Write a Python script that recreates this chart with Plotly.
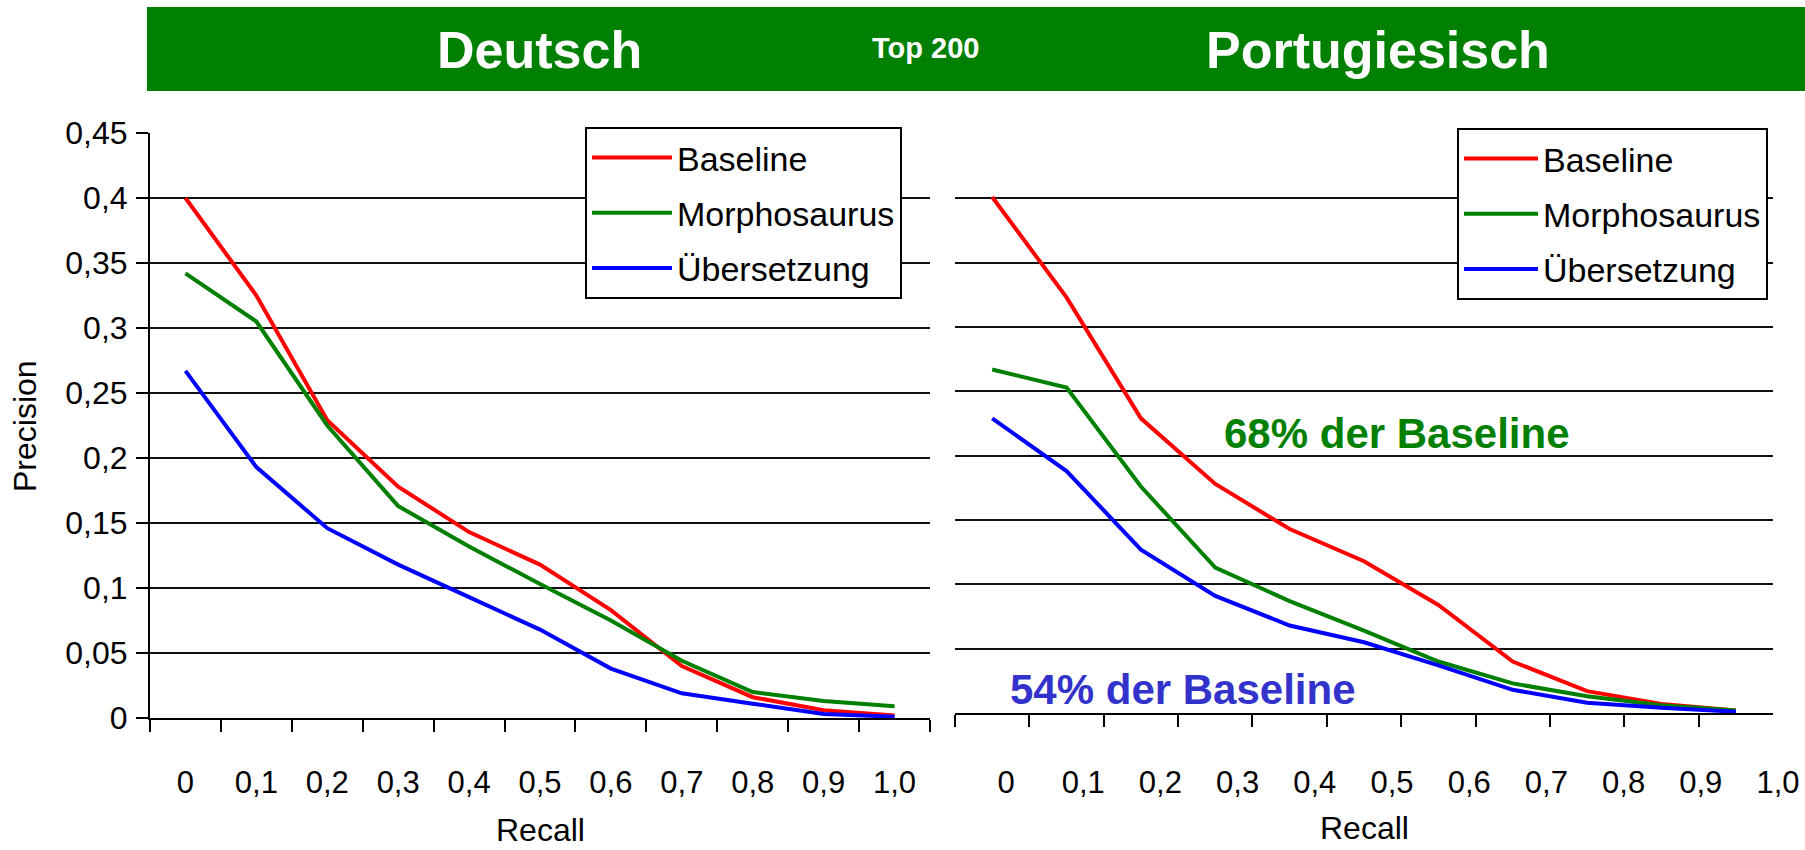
import plotly.graph_objects as go

# Recall levels (categories on the x axis)
recall = ["0", "0,1", "0,2", "0,3", "0,4", "0,5", "0,6", "0,7", "0,8", "0,9", "1,0"]

# Deutsch: precision per recall level
baseline_de = [0.400, 0.325, 0.229, 0.178, 0.143, 0.118, 0.083, 0.040, 0.016, 0.006, 0.002]
morpho_de = [0.342, 0.305, 0.225, 0.163, 0.132, 0.103, 0.075, 0.044, 0.020, 0.013, 0.009]
uebers_de = [0.267, 0.193, 0.146, 0.118, 0.093, 0.068, 0.038, 0.019, 0.011, 0.003, 0.001]

# Portugiesisch: precision per recall level
baseline_pt = [0.401, 0.323, 0.229, 0.178, 0.143, 0.118, 0.084, 0.040, 0.017, 0.007, 0.002]
morpho_pt = [0.267, 0.253, 0.176, 0.113, 0.087, 0.064, 0.040, 0.023, 0.013, 0.006, 0.002]
uebers_pt = [0.229, 0.188, 0.127, 0.091, 0.068, 0.055, 0.037, 0.018, 0.008, 0.004, 0.001]

series_names = ["Baseline", "Morphosaurus", "Übersetzung"]
colors = ["#FF0000", "#008000", "#0000FF"]

W, H = 1805, 850
FONT = "Arial, Liberation Sans, sans-serif"


def px_x(p):
    return p / W


def px_y(p):
    return 1 - p / H


fig = go.Figure()

for name, col, ys in zip(series_names, colors, [baseline_de, morpho_de, uebers_de]):
    fig.add_trace(go.Scatter(
        x=recall, y=ys, name=name, mode="lines",
        line=dict(color=col, width=4),
        xaxis="x", yaxis="y", legend="legend", legendgroup="de_" + name,
    ))

for name, col, ys in zip(series_names, colors, [baseline_pt, morpho_pt, uebers_pt]):
    fig.add_trace(go.Scatter(
        x=recall, y=ys, name=name, mode="lines",
        line=dict(color=col, width=4),
        xaxis="x2", yaxis="y2", legend="legend2", legendgroup="pt_" + name,
    ))

# empty trace so the label-only axis pair of the right panel is drawn
fig.add_trace(go.Scatter(x=[], y=[], xaxis="x3", yaxis="y3", showlegend=False,
                         hoverinfo="skip"))

grid = dict(showgrid=True, gridcolor="#111111", gridwidth=2, zeroline=False)

fig.update_layout(
    template="none",
    width=W, height=H,
    margin=dict(l=0, r=0, t=0, b=0, pad=0, autoexpand=False),
    paper_bgcolor="white", plot_bgcolor="rgba(0,0,0,0)",
    separators=", ",
    font=dict(family=FONT, color="black", size=32),
    xaxis=dict(
        domain=[px_x(150), px_x(930)], anchor="y", automargin=False,
        type="category", categoryarray=recall, categoryorder="array",
        tickson="boundaries", ticks="outside", ticklen=12, tickwidth=1.5, tickcolor="black",
        showline=True, linecolor="black", linewidth=2,
        showgrid=False, zeroline=False,
        tickfont=dict(size=31), ticklabelstandoff=36,
        range=[-0.5, 10.5],
    ),
    yaxis=dict(
        domain=[px_y(718), px_y(133)], anchor="x", automargin=False,
        range=[0, 0.45], dtick=0.05, tick0=0,
        ticks="outside", ticklen=12, tickwidth=2, tickcolor="black",
        showline=True, linecolor="black", linewidth=2,
        tickfont=dict(size=32), ticklabelstandoff=2,
        **grid,
    ),
    xaxis2=dict(
        domain=[px_x(955), px_x(1773)], anchor="y2", automargin=False,
        type="category", categoryarray=recall, categoryorder="array",
        tickson="boundaries", ticks="outside", ticklen=12, tickwidth=1.5, tickcolor="black",
        showline=True, linecolor="black", linewidth=2,
        showgrid=False, zeroline=False, showticklabels=False,
        range=[-0.5, 10.5],
    ),
    yaxis2=dict(
        domain=[px_y(713), px_y(134)], anchor="x2", automargin=False,
        range=[0, 0.45], dtick=0.05, tick0=0,
        showticklabels=False, ticks="", showline=False,
        **grid,
    ),
    # label-only axis for the right panel's recall levels
    xaxis3=dict(
        domain=[px_x(967.4), 1.0], anchor="y3", automargin=False,
        type="linear", range=[-0.5, -0.5 + (W - 967.4) / 77.2],
        tickmode="array", tickvals=list(range(len(recall))), ticktext=recall,
        ticks="outside", ticklen=12, tickcolor="rgba(0,0,0,0)",
        showline=False, showgrid=False, zeroline=False,
        tickfont=dict(size=31), ticklabelstandoff=30,
    ),
    yaxis3=dict(
        domain=[px_y(713), px_y(134)], anchor="x3", automargin=False,
        range=[0, 1], visible=False, showgrid=False, zeroline=False,
    ),
    legend=dict(
        x=px_x(585), y=px_y(127), xanchor="left", yanchor="top",
        bordercolor="black", borderwidth=2, bgcolor="white",
        font=dict(size=34, family=FONT), traceorder="grouped", tracegroupgap=8,
        itemwidth=80, entrywidth=232,
    ),
    legend2=dict(
        x=px_x(1457), y=px_y(128), xanchor="left", yanchor="top",
        bordercolor="black", borderwidth=2, bgcolor="white",
        font=dict(size=34, family=FONT), traceorder="grouped", tracegroupgap=8,
        itemwidth=74,
    ),
    showlegend=True,
)

# green header band
fig.add_shape(type="rect", xref="paper", yref="paper",
              x0=px_x(147), x1=1.0, y0=px_y(91), y1=px_y(7),
              fillcolor="#008000", line=dict(width=0), layer="below")

annotations = [
    dict(text="<b>Deutsch</b>", x=px_x(539), y=px_y(50), font=dict(size=52, color="white")),
    dict(text="<b>Top 200</b>", x=px_x(925), y=px_y(48), font=dict(size=29, color="white")),
    dict(text="<b>Portugiesisch</b>", x=px_x(1378), y=px_y(50), font=dict(size=52, color="white")),
    dict(text="<b>68% der Baseline</b>", x=px_x(1222), y=px_y(433), xanchor="left",
         font=dict(size=42, color="#008000")),
    dict(text="<b>54% der Baseline</b>", x=px_x(1008), y=px_y(689), xanchor="left",
         font=dict(size=42, color="#3333CC")),
    dict(text="Precision", x=px_x(25), y=px_y(426), textangle=-90, font=dict(size=32)),
]
for a in annotations:
    a.setdefault("xanchor", "center")
    fig.add_annotation(xref="paper", yref="paper", yanchor="middle", showarrow=False,
                       font_family=FONT, **a)

fig.add_annotation(text="Recall", xref="x domain", yref="paper", x=0.5, y=px_y(830),
                   yanchor="middle", showarrow=False, font=dict(size=32, family=FONT))
fig.add_annotation(text="Recall", xref="x2 domain", yref="paper", x=0.5, y=px_y(828),
                   yanchor="middle", showarrow=False, font=dict(size=32, family=FONT))

fig.write_html("out.html")
